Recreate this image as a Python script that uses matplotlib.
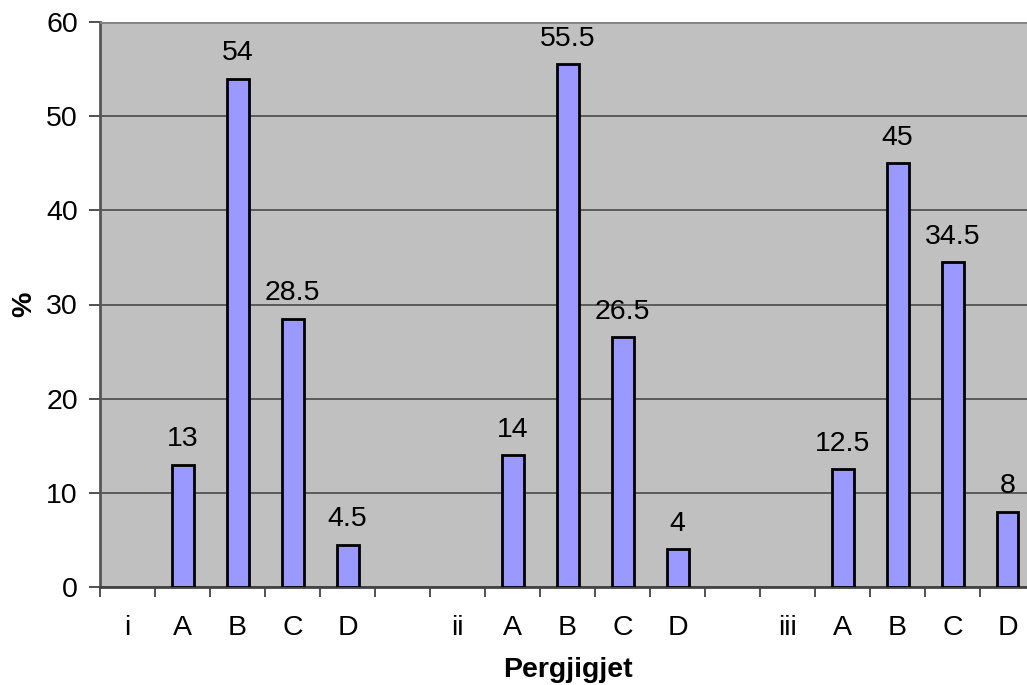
import matplotlib
matplotlib.use('Agg')
import matplotlib.pyplot as plt
import numpy as np

plt.rcParams['font.family'] = ['Liberation Sans', 'DejaVu Sans']

# Kategoritë dhe vlerat (%)
labels = ['i', 'A', 'B', 'C', 'D', '', 'ii', 'A', 'B', 'C', 'D', '', 'iii', 'A', 'B', 'C', 'D']
values = [None, 13, 54, 28.5, 4.5, None, None, 14, 55.5, 26.5, 4, None, None, 12.5, 45, 34.5, 8]
value_text = ['', '13', '54', '28.5', '4.5', '', '', '14', '55.5', '26.5', '4', '', '', '12.5', '45', '34.5', '8']

fs = 20.5

fig = plt.figure(figsize=(10.27, 6.85), dpi=100)
ax = fig.add_axes([100/1027, 1 - 587/685, 935/1027, 565/685])
ax.set_facecolor('#C0C0C0')

x = np.arange(len(labels))
bar_x = [i for i, v in enumerate(values) if v is not None]
bar_v = [v for v in values if v is not None]
ax.bar(bar_x, bar_v, width=0.4, color='#9999FF', edgecolor='black', linewidth=2, zorder=3)

for i, v in enumerate(values):
    if v is not None:
        ax.annotate(value_text[i], (i, v), xytext=(0, 9), textcoords='offset points',
                    ha='center', va='bottom', fontsize=fs)

ax.set_xlim(-0.5, len(labels) - 0.5)
ax.set_ylim(0, 60)
ax.set_yticks(np.arange(0, 61, 10))
ax.yaxis.grid(True, color='#4a4a4a', linewidth=1.2, zorder=1)
ax.set_axisbelow(True)

ax.set_xticks(x)
ax.set_xticklabels(labels, fontsize=fs)
ax.set_xticks(np.arange(-0.5, len(labels), 1), minor=True)
ax.tick_params(axis='x', which='major', length=0, pad=20)
ax.tick_params(axis='x', which='minor', length=7, width=1.2, color='#333333')
ax.tick_params(axis='y', length=8, width=1.2, color='#333333', labelsize=fs, pad=8)

for s in ['top', 'right']:
    ax.spines[s].set_visible(False)
ax.spines['left'].set_color('#555555')
ax.spines['left'].set_linewidth(2)
ax.spines['bottom'].set_color('#444444')
ax.spines['bottom'].set_linewidth(2)
ax.axhline(60, color='#808080', linewidth=2, zorder=4)

ax.set_xlabel('Pergjigjet', fontsize=fs, fontweight='bold', labelpad=12)
ax.set_ylabel('%', fontsize=fs, fontweight='bold', labelpad=6)

fig.savefig('out.png', dpi=100)
